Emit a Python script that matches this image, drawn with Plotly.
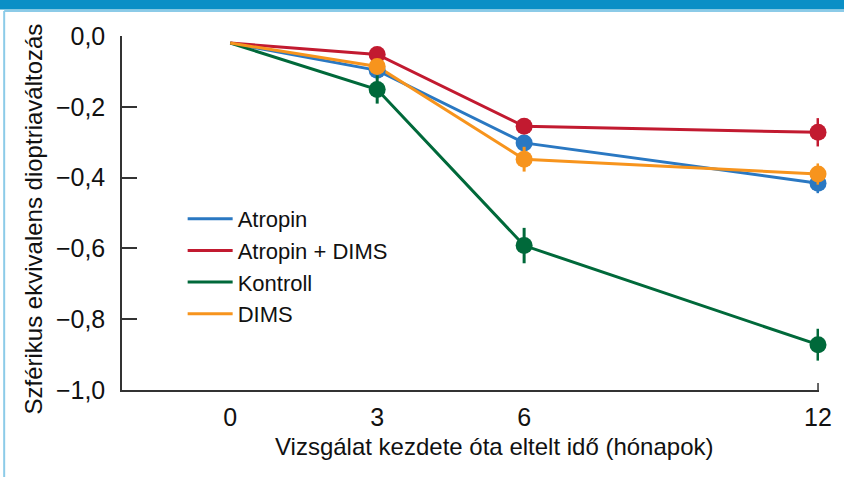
import plotly.graph_objects as go

months = [0, 3, 6, 12]
x_ticktext = ["0", "3", "6", "12"]
y_tickvals = [0, -0.2, -0.4, -0.6, -0.8, -1.0]
y_ticktext = ["0,0", "\u22120,2", "\u22120,4", "\u22120,6", "\u22120,8", "\u22121,0"]

series_names = ["Atropin", "Atropin + DIMS", "Kontroll", "DIMS"]
atropin = [-0.02, -0.097, -0.302, -0.416]
atropin_dims = [-0.02, -0.052, -0.255, -0.272]
kontroll = [-0.02, -0.151, -0.592, -0.872]
dims = [-0.02, -0.086, -0.348, -0.39]

atropin_err = [0, 0.01, 0.012, 0.028]
atropin_dims_err = [0, 0.01, 0.01, 0.04]
kontroll_err = [0, 0.04, 0.05, 0.045]
dims_err = [0, 0.01, 0.035, 0.03]

colors = ["#2a78c2", "#c21a30", "#00693a", "#f7941d"]

values = [atropin, atropin_dims, kontroll, dims]
errors = [atropin_err, atropin_dims_err, kontroll_err, dims_err]

FONT = "Liberation Sans, Arial, sans-serif"

fig = go.Figure()
for name, v, c in zip(series_names, values, colors):
    fig.add_trace(go.Scatter(x=months, y=v, mode="lines", name=name,
                             line=dict(color=c, width=3), showlegend=True))
for name, v, e, c in zip(series_names, values, errors, colors):
    fig.add_trace(go.Scatter(x=months[1:], y=v[1:], mode="markers", name=name,
                             marker=dict(color=c, size=17),
                             error_y=dict(type="data", array=e[1:], color=c,
                                          thickness=3, width=0),
                             showlegend=False, cliponaxis=False))

# plot area pixel geometry
L, R, T, B = 122, 823, 35.5, 390.5
W, H = R - L, B - T

def px(x):
    return (x - L) / W

def py(y):
    return (B - y) / H

shapes = [
    # top blue bar
    dict(type="rect", xref="paper", yref="paper", x0=px(-5), x1=px(850),
         y0=py(9), y1=py(-5), fillcolor="#0a8fc6", line=dict(width=0), layer="below"),
    # light blue frame
    dict(type="line", xref="paper", yref="paper", x0=px(3.5), x1=px(850),
         y0=py(10.5), y1=py(10.5), line=dict(color="#8ccbe8", width=2)),
    dict(type="line", xref="paper", yref="paper", x0=px(3.5), x1=px(3.5),
         y0=py(10.5), y1=py(490), line=dict(color="#8ccbe8", width=2)),
    # right end tick on x axis
    dict(type="line", xref="x", yref="y", x0=12, x1=12, y0=-1.0, y1=-0.98,
         line=dict(color="#333333", width=1.5)),
]

annotations = [
    dict(text="Vizsgálat kezdete óta eltelt idő (hónapok)", xref="paper", yref="paper",
         x=px(497), y=py(447), showarrow=False, font=dict(family=FONT, size=24, color="#111111"),
         xanchor="center", yanchor="middle"),
    dict(text="Szférikus ekvivalens dioptriaváltozás", xref="paper", yref="paper",
         x=px(33), y=py(219), showarrow=False, textangle=-90,
         font=dict(family=FONT, size=24, color="#111111"),
         xanchor="center", yanchor="middle"),
]

fig.update_layout(
    width=844, height=477,
    margin=dict(l=L, r=844 - R, t=T, b=477 - B),
    paper_bgcolor="white", plot_bgcolor="white",
    font=dict(family=FONT, color="#111111"),
    showlegend=True,
    legend=dict(x=px(183), y=py(198), xanchor="left", yanchor="top",
                font=dict(family=FONT, size=22, color="#111111"),
                bgcolor="rgba(0,0,0,0)", tracegroupgap=0, itemwidth=45),
    xaxis=dict(range=[-2.21, 12.02], tickvals=months, ticktext=x_ticktext,
               showgrid=False, zeroline=False, showline=True, linecolor="#333333",
               linewidth=1.5, ticks="", tickfont=dict(family=FONT, size=25, color="#111111"),
               ticklabelstandoff=4),
    yaxis=dict(range=[-1.0, 0.0], tickvals=y_tickvals, ticktext=y_ticktext,
               showgrid=False, zeroline=False, showline=True, linecolor="#333333",
               linewidth=1.5, ticks="inside", ticklen=15, tickwidth=1.5, tickcolor="#333333",
               tickfont=dict(family=FONT, size=25, color="#111111"), ticklabelstandoff=10),
    shapes=shapes,
    annotations=annotations,
)

fig.write_html("out.html", config={"displayModeBar": False},
               post_script="document.body.style.margin='0px';")
